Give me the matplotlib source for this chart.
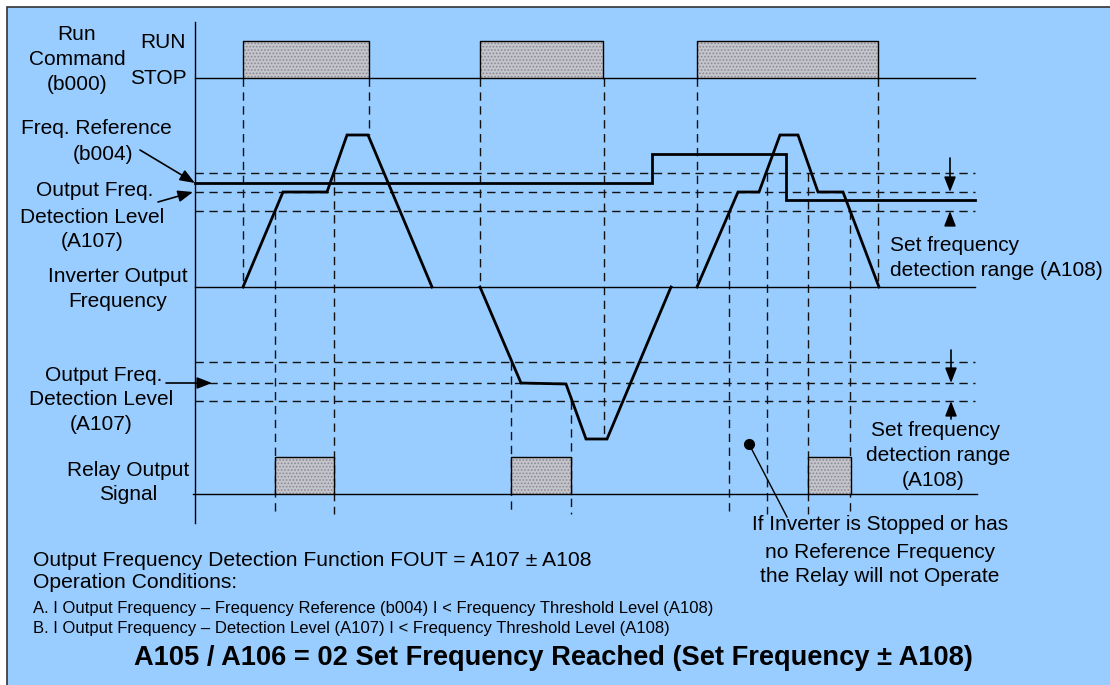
import matplotlib
matplotlib.use("Agg")
import matplotlib.pyplot as plt
from matplotlib.patches import Rectangle

plt.rcParams['font.family'] = ['Liberation Sans', 'DejaVu Sans']
plt.rcParams['hatch.color'] = '#8a8a90'
plt.rcParams['hatch.linewidth'] = 0.8

# ---------------- data (diagram units = pixel grid) ----------------
x_axis = 195
x_end = 975
y_stop = 78
y_run = 41
run_pulses = [(243, 369), (480, 603), (697, 878)]

y_zero = 287
upper_levels = [173, 192, 211]
lower_levels = [362, 383, 401]

freq_ref_x = [195, 652, 652, 786, 786, 975]
freq_ref_y = [183, 183, 154, 154, 200, 200]

out1_x = [243, 283, 327, 347, 368, 432]
out1_y = [287, 192, 192, 135, 135, 287]
out2_x = [480, 521, 566, 586, 607, 671]
out2_y = [287, 383, 384, 439, 439, 287]
out3_x = [697, 738, 759, 780, 798, 818, 843, 879]
out3_y = [287, 192, 192, 135, 135, 192, 192, 287]

y_relay = 494
y_relay_top = 457
relay_pulses = [(275, 334), (511, 571), (808, 851)]

guide_x = [243, 369, 275, 334, 480, 604, 511, 571, 697, 878, 729, 767, 808, 850]
guide_y0 = [78, 78, 211, 173, 78, 78, 362, 401, 78, 78, 211, 173, 173, 211]
guide_y1 = [287, 135, 514, 514, 287, 437, 514, 514, 287, 287, 514, 514, 514, 514]

# ---------------- figure ----------------
fig = plt.figure(figsize=(11.1, 6.85), dpi=100)
ax = fig.add_axes([0, 0, 1, 1])
ax.set_xlim(0, 1110)
ax.set_ylim(685, 0)
ax.axis('off')

ax.add_patch(Rectangle((7, 7), 1110, 690, facecolor='#99ccff',
                       edgecolor='#333333', linewidth=1.2, zorder=0))

thin = dict(color='black', linewidth=1.0, zorder=3)
thick = dict(color='black', linewidth=2.0, zorder=4, solid_joinstyle='miter')
dash = dict(color='#111111', linewidth=1.0, linestyle=(0, (6, 4)), zorder=2)

# axis line
ax.plot([x_axis, x_axis], [22, 523], **thin)

# run command
ax.plot([x_axis, x_end], [y_stop, y_stop], **thin)
for a, b in run_pulses:
    ax.add_patch(Rectangle((a, y_run), b - a, y_stop - y_run, facecolor='#c4c4cc',
                           hatch='.....', edgecolor='#8a8a90', linewidth=0, zorder=2))
    ax.plot([a, a, b, b], [y_stop, y_run, y_run, y_stop], **thin)

# level lines
for y in upper_levels + lower_levels:
    ax.plot([x_axis, x_end], [y, y], **dash)

# guides
for gx, g0, g1 in zip(guide_x, guide_y0, guide_y1):
    ax.plot([gx, gx], [g0, g1], **dash)

# zero line, freq reference, output
ax.plot([x_axis, x_end], [y_zero, y_zero], **thin)
ax.plot(freq_ref_x, freq_ref_y, **thick)
for xs, ys in [(out1_x, out1_y), (out2_x, out2_y), (out3_x, out3_y)]:
    ax.plot(xs, ys, **thick)

# relay
ax.plot([193, 977], [y_relay, y_relay], **thin)
for a, b in relay_pulses:
    ax.add_patch(Rectangle((a, y_relay_top), b - a, y_relay - y_relay_top, facecolor='#c4c4cc',
                           hatch='.....', edgecolor='#8a8a90', linewidth=0, zorder=2))
    ax.plot([a, a, b, b], [y_relay, y_relay_top, y_relay_top, y_relay], **thin)

# arrows
arr = dict(arrowstyle='-|>,head_length=0.9,head_width=0.35', color='black', lw=1.2,
           shrinkA=0, shrinkB=0)
ax.annotate('', xy=(195, 183), xytext=(140, 150), arrowprops=arr, zorder=6)
ax.annotate('', xy=(193, 192), xytext=(158, 202), arrowprops=arr, zorder=6)
ax.annotate('', xy=(212, 383), xytext=(166, 383), arrowprops=arr, zorder=6)
ax.annotate('', xy=(950, 192), xytext=(950, 158), arrowprops=arr, zorder=6)
ax.annotate('', xy=(950, 211), xytext=(950, 223), arrowprops=arr, zorder=6)
ax.annotate('', xy=(951, 383), xytext=(951, 350), arrowprops=arr, zorder=6)
ax.annotate('', xy=(951, 401), xytext=(951, 419), arrowprops=arr, zorder=6)

# bullet callout
ax.plot([749, 787], [444, 517], color='black', linewidth=1.0, zorder=5)
ax.plot([749], [444], 'o', color='black', markersize=7, zorder=6)

# text
fs = 15
def t(x, y, s, ha='center', size=fs, **kw):
    ax.text(x, y, s, ha=ha, va='center', fontsize=size, color='black', zorder=7, **kw)

t(77, 34, 'Run'); t(77, 59, 'Command'); t(77, 84, '(b000)')
t(186, 42, 'RUN', ha='right'); t(187, 78, 'STOP', ha='right')
t(96, 128, 'Freq. Reference'); t(103, 154, '(b004)')
t(95, 190, 'Output Freq.'); t(92, 217, 'Detection Level'); t(92, 241, '(A107)')
t(118, 276, 'Inverter Output'); t(118, 301, 'Frequency')
t(104, 375, 'Output Freq.'); t(101, 399, 'Detection Level'); t(101, 424, '(A107)')
t(128, 470, 'Relay Output'); t(128, 494, 'Signal')
t(890, 245, 'Set frequency', ha='left'); t(890, 270, 'detection range (A108)', ha='left')
t(936, 430, 'Set frequency'); t(938, 455, 'detection range'); t(933, 480, '(A108)')
t(880, 525, 'If Inverter is Stopped or has')
t(880, 552, 'no Reference Frequency')
t(880, 576, 'the Relay will not Operate')

t(33, 560, 'Output Frequency Detection Function FOUT = A107 \u00b1 A108', ha='left', size=15.2)
t(33, 582, 'Operation Conditions:', ha='left', size=15.2)
t(33, 608, 'A. I Output Frequency \u2013 Frequency Reference (b004) I < Frequency Threshold Level (A108)',
  ha='left', size=12.0)
t(33, 628, 'B. I Output Frequency \u2013 Detection Level (A107) I < Frequency Threshold Level (A108)',
  ha='left', size=12.0)
t(553, 658, 'A105 / A106 = 02 Set Frequency Reached (Set Frequency \u00b1 A108)', size=19.6,
  fontweight='bold')

fig.savefig('out.png', dpi=100, facecolor='white')
